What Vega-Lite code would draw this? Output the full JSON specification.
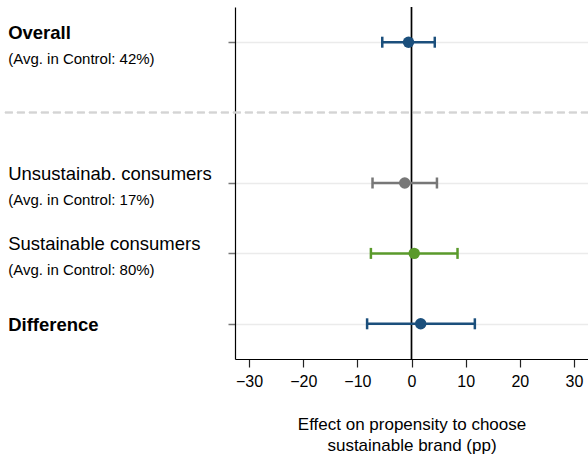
{
  "$schema": "https://vega.github.io/schema/vega-lite/v6.json",
  "autosize": "none",
  "width": 353,
  "height": 352,
  "padding": {"left": 235, "top": 7, "right": 0, "bottom": 95},
  "background": "white",
  "config": {
    "view": {"stroke": null},
    "font": "Liberation Sans",
    "axis": {"labelFont": "Liberation Sans", "titleFont": "Liberation Sans"}
  },
  "data": {
    "values": [
      {"row": 1, "label": "Overall", "sub": "(Avg. in Control: 42%)", "group": "overall", "est": -0.55, "lo": -5.4, "hi": 4.3},
      {"row": 3, "label": "Unsustainab. consumers", "sub": "(Avg. in Control: 17%)", "group": "unsust", "est": -1.25, "lo": -7.2, "hi": 4.7},
      {"row": 4, "label": "Sustainable consumers", "sub": "(Avg. in Control: 80%)", "group": "sust", "est": 0.5, "lo": -7.5, "hi": 8.5},
      {"row": 5, "label": "Difference", "sub": "", "group": "diff", "est": 1.7, "lo": -8.2, "hi": 11.7}
    ]
  },
  "encoding": {
    "y": {
      "field": "row", "type": "quantitative",
      "scale": {"domain": [0.5, 5.5], "reverse": true, "nice": false, "zero": false},
      "axis": {
        "values": [1, 3, 4, 5], "labels": false, "title": null,
        "grid": true, "gridColor": "#ebebeb", "gridWidth": 1.5,
        "ticks": true, "tickSize": 7, "tickColor": "#777777", "tickWidth": 1.5,
        "domainColor": "#000000", "domainWidth": 1.2
      }
    }
  },
  "layer": [
    {
      "mark": {"type": "rule", "stroke": "#d4d4d4", "strokeDash": [8, 4], "strokeWidth": 1.5},
      "encoding": {
        "x": {"datum": -75.1, "type": "quantitative"},
        "x2": {"datum": 32.6},
        "y": {"datum": 2, "type": "quantitative"}
      }
    },
    {
      "mark": {"type": "rule", "stroke": "#000000", "strokeWidth": 1.2},
      "encoding": {
        "x": {"datum": 0, "type": "quantitative"},
        "y": null
      }
    },
    {
      "mark": {"type": "rule", "strokeWidth": 2.5},
      "encoding": {
        "x": {
          "field": "lo", "type": "quantitative",
          "scale": {"domain": [-32.6, 32.6], "nice": false, "zero": false},
          "axis": {
            "values": [-30, -20, -10, 0, 10, 20, 30],
            "grid": false,
            "domainColor": "#000000", "domainWidth": 1.2,
            "tickColor": "#222222", "tickSize": 8, "tickWidth": 1.2,
            "labelFontSize": 16, "labelColor": "#000000", "labelPadding": 6,
            "title": ["Effect on propensity to choose", "sustainable brand (pp)"],
            "titleFontSize": 17, "titleFontWeight": "normal", "titleColor": "#000000",
            "titleLineHeight": 21, "titlePadding": 27
          }
        },
        "x2": {"field": "hi"},
        "color": {
          "field": "group", "type": "nominal", "legend": null,
          "scale": {"domain": ["overall", "unsust", "sust", "diff"], "range": ["#1b4f7c", "#777777", "#5a9a2b", "#1b4f7c"]}
        }
      }
    },
    {
      "mark": {"type": "tick", "orient": "vertical", "size": 11, "thickness": 2.5, "opacity": 1},
      "encoding": {
        "x": {"field": "lo", "type": "quantitative"},
        "color": {"field": "group", "type": "nominal", "legend": null}
      }
    },
    {
      "mark": {"type": "tick", "orient": "vertical", "size": 11, "thickness": 2.5, "opacity": 1},
      "encoding": {
        "x": {"field": "hi", "type": "quantitative"},
        "color": {"field": "group", "type": "nominal", "legend": null}
      }
    },
    {
      "mark": {"type": "circle", "size": 130, "opacity": 1},
      "encoding": {
        "x": {"field": "est", "type": "quantitative"},
        "color": {"field": "group", "type": "nominal", "legend": null}
      }
    },
    {
      "transform": [{"filter": "datum.row == 1"}],
      "mark": {"type": "text", "align": "left", "baseline": "alphabetic", "dy": -3.5, "fontSize": 18.5, "fontWeight": "bold", "font": "Liberation Sans", "color": "#000000"},
      "encoding": {
        "x": {"datum": -74.5, "type": "quantitative"},
        "text": {"field": "label"}
      }
    },
    {
      "transform": [{"filter": "datum.row == 3 || datum.row == 4"}],
      "mark": {"type": "text", "align": "left", "baseline": "alphabetic", "dy": -3.5, "fontSize": 18.5, "fontWeight": "normal", "font": "Liberation Sans", "color": "#000000"},
      "encoding": {
        "x": {"datum": -74.5, "type": "quantitative"},
        "text": {"field": "label"}
      }
    },
    {
      "transform": [{"filter": "datum.row == 5"}],
      "mark": {"type": "text", "align": "left", "baseline": "alphabetic", "dy": 7.4, "fontSize": 18.5, "fontWeight": "bold", "font": "Liberation Sans", "color": "#000000"},
      "encoding": {
        "x": {"datum": -74.5, "type": "quantitative"},
        "text": {"field": "label"}
      }
    },
    {
      "transform": [{"filter": "datum.row != 5"}],
      "mark": {"type": "text", "align": "left", "baseline": "alphabetic", "dy": 21.5, "fontSize": 15, "font": "Liberation Sans", "color": "#000000"},
      "encoding": {
        "x": {"datum": -74.5, "type": "quantitative"},
        "text": {"field": "sub"}
      }
    }
  ]
}
